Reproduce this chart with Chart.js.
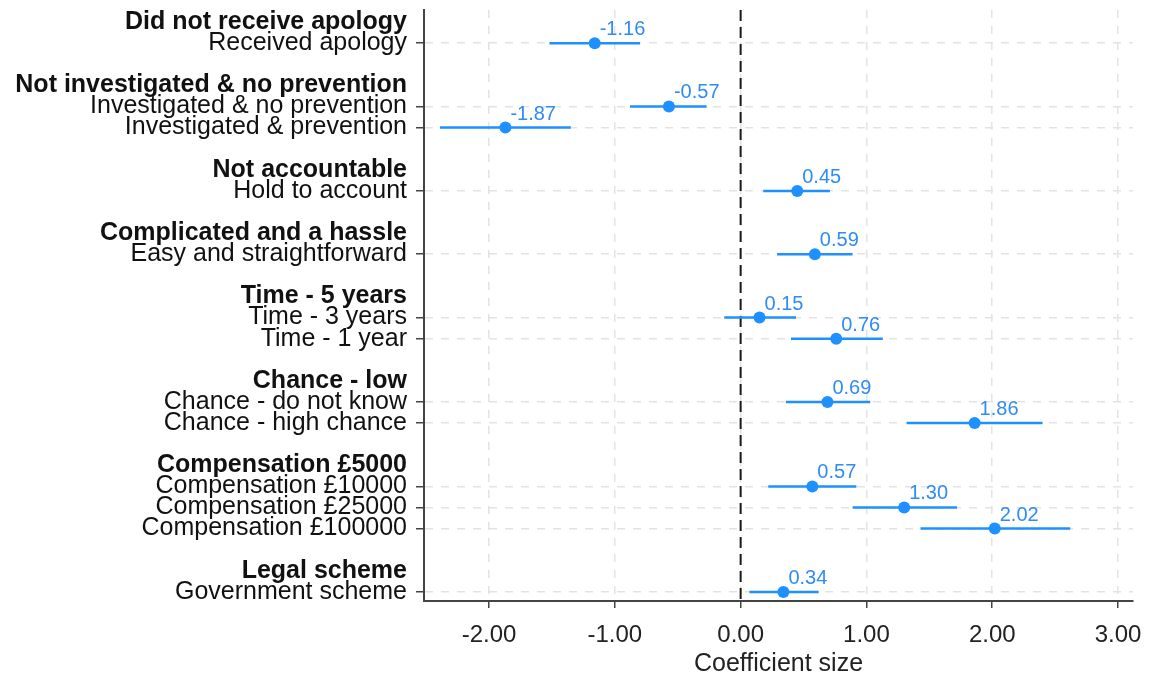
<!DOCTYPE html>
<html>
<head>
<meta charset="utf-8">
<script src="https://cdn.jsdelivr.net/npm/chart.js@4/dist/chart.umd.min.js"></script>
<style>
  html, body { margin: 0; padding: 0; background: #ffffff; }
  #wrap { width: 1149px; height: 676px; position: relative; }
</style>
</head>
<body>
<div id="wrap"><canvas id="c" width="1149" height="676"></canvas></div>
<script>
// ---- Data ----
const groupHeaders = [
  'Did not receive apology',
  'Not investigated & no prevention',
  'Not accountable',
  'Complicated and a hassle',
  'Time - 5 years',
  'Chance - low',
  'Compensation £5000',
  'Legal scheme'
];
const groupSizes = [1, 2, 1, 1, 2, 2, 3, 1];
const itemLabels = [
  'Received apology',
  'Investigated & no prevention',
  'Investigated & prevention',
  'Hold to account',
  'Easy and straightforward',
  'Time - 3 years',
  'Time - 1 year',
  'Chance - do not know',
  'Chance - high chance',
  'Compensation £10000',
  'Compensation £25000',
  'Compensation £100000',
  'Government scheme'
];
const coefficients = [-1.16, -0.57, -1.87, 0.45, 0.59, 0.15, 0.76, 0.69, 1.86, 0.57, 1.30, 2.02, 0.34];
const ciLower = [-1.52, -0.88, -2.39, 0.18, 0.29, -0.13, 0.40, 0.36, 1.32, 0.22, 0.89, 1.43, 0.07];
const ciUpper = [-0.80, -0.27, -1.35, 0.71, 0.89, 0.44, 1.13, 1.03, 2.40, 0.92, 1.72, 2.62, 0.62];
const xTickValues = [-2, -1, 0, 1, 2, 3];
const xTickLabels = ['-2.00', '-1.00', '0.00', '1.00', '2.00', '3.00'];
const referenceValue = 0;
const xTitle = 'Coefficient size';

// ---- Build row layout (header, items, blank separator) ----
const rowLabels = [];
const rowKinds = [];
const itemRowIndex = [];
let k = 0;
groupHeaders.forEach((h, g) => {
  rowLabels.push(h); rowKinds.push('header');
  for (let j = 0; j < groupSizes[g]; j++) {
    itemRowIndex.push(rowLabels.length);
    rowLabels.push(itemLabels[k++]); rowKinds.push('item');
  }
  if (g < groupHeaders.length - 1) { rowLabels.push(''); rowKinds.push('blank'); }
});

const BLUE = '#1E90FF';
const LABEL_BLUE = '#2F8CF5';
const FONT = "'Liberation Sans', Arial, Helvetica, sans-serif";

const pointData = coefficients.map((c, i) => ({ x: c, y: itemRowIndex[i] }));
const ciDatasets = coefficients.map((c, i) => ({
  type: 'line',
  data: [{ x: ciLower[i], y: itemRowIndex[i] }, { x: ciUpper[i], y: itemRowIndex[i] }],
  borderColor: BLUE,
  borderWidth: 2.5,
  pointRadius: 0,
  fill: false
}));

const refLinePlugin = {
  id: 'refLine',
  beforeDatasetsDraw(chart) {
    const { ctx, chartArea, scales } = chart;
    const x = scales.x.getPixelForValue(referenceValue);
    ctx.save();
    ctx.strokeStyle = '#1a1a1a';
    ctx.lineWidth = 2;
    ctx.setLineDash([11, 6]);
    ctx.beginPath();
    ctx.moveTo(x, chartArea.top);
    ctx.lineTo(x, chartArea.bottom);
    ctx.stroke();
    ctx.restore();
  }
};

const labelPlugin = {
  id: 'pointLabels',
  afterDatasetsDraw(chart) {
    const { ctx } = chart;
    const meta = chart.getDatasetMeta(chart.data.datasets.length - 1);
    ctx.save();
    ctx.fillStyle = LABEL_BLUE;
    ctx.font = "20px " + FONT;
    ctx.textAlign = 'left';
    ctx.textBaseline = 'alphabetic';
    meta.data.forEach((el, i) => {
      ctx.fillText(coefficients[i].toFixed(2), el.x + 5, el.y - 8);
    });
    ctx.restore();
  }
};

new Chart(document.getElementById('c'), {
  type: 'scatter',
  data: {
    datasets: [
      ...ciDatasets,
      {
        type: 'scatter',
        data: pointData,
        backgroundColor: BLUE,
        borderColor: BLUE,
        pointRadius: 6,
        pointBorderWidth: 0
      }
    ]
  },
  options: {
    responsive: false,
    animation: false,
    layout: { padding: { top: 10, right: 16, left: 0, bottom: 0 } },
    plugins: {
      legend: { display: false },
      tooltip: { enabled: false }
    },
    scales: {
      x: {
        type: 'linear',
        min: -2.517,
        max: 3.119,
        afterBuildTicks(scale) { scale.ticks = xTickValues.map(v => ({ value: v })); },
        afterFit(scale) { scale.height = 75; scale.paddingLeft = 0; scale.paddingRight = 0; },
        ticks: {
          callback: (v, i) => xTickLabels[i],
          font: { family: FONT, size: 24 },
          color: '#222',
          padding: 13,
          maxRotation: 0
        },
        grid: {
          color: '#e3e3e3',
          lineWidth: 1.5,
          tickLength: 7,
          tickColor: '#444',
          tickWidth: 1.5
        },
        border: { display: true, color: '#444', width: 2, dash: [8, 8] },
        title: {
          display: true,
          text: xTitle,
          font: { family: FONT, size: 25 },
          color: '#222',
          padding: { top: 0, bottom: -3 }
        }
      },
      y: {
        type: 'linear',
        reverse: true,
        min: -0.57,
        max: 27.43,
        afterBuildTicks(scale) { scale.ticks = rowLabels.map((_, i) => ({ value: i })); },
        afterFit(scale) { scale.width = 424; scale.paddingTop = 0; scale.paddingBottom = 0; },
        ticks: {
          autoSkip: false,
          callback: (v, i) => rowLabels[i],
          font: (ctx) => ({ family: FONT, size: 25, weight: rowKinds[ctx.index] === 'header' ? 'bold' : 'normal' }),
          color: '#111',
          padding: 9
        },
        grid: {
          color: (ctx) => rowKinds[ctx.index] === 'item' ? '#e3e3e3' : 'rgba(0,0,0,0)',
          lineWidth: 1.5,
          tickLength: 8,
          tickColor: (ctx) => rowKinds[ctx.index] === 'item' ? '#444' : 'rgba(0,0,0,0)',
          tickWidth: 1.5
        },
        border: { display: true, color: '#444', width: 2, dash: [8, 8] }
      }
    }
  },
  plugins: [refLinePlugin, labelPlugin]
});
</script>
</body>
</html>
